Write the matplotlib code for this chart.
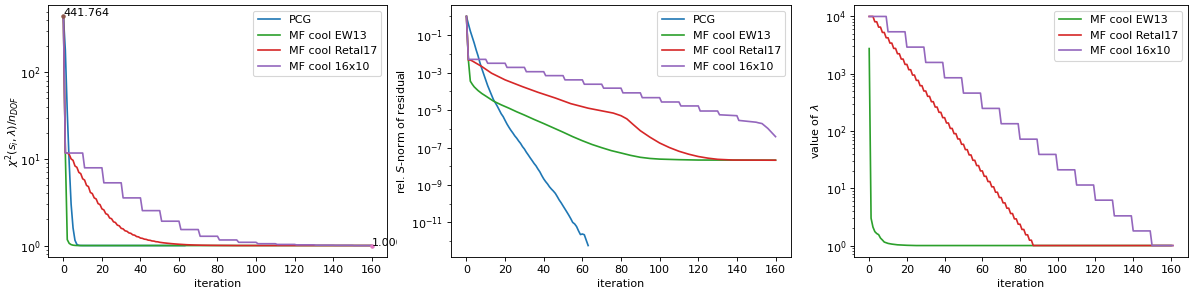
import matplotlib
matplotlib.use("Agg")
import matplotlib.pyplot as plt
from matplotlib.transforms import Bbox, TransformedBbox
from matplotlib.ticker import NullFormatter, FixedLocator

# ---------------- data ----------------
labels = ["PCG", "MF cool EW13", "MF cool Retal17", "MF cool 16x10"]
colors = ["#1f77b4", "#2ca02c", "#d62728", "#9467bd"]

# panel 1: chi^2 / n_DOF
chi2_pcg_it = [0, 1, 2, 3, 4, 5, 6, 7, 8, 9, 10, 63]
chi2_pcg = [441.764, 180, 35, 9, 3, 1.6, 1.15, 1.03, 1.005, 1.001, 1.0, 1.0]

chi2_ew13_it = [0, 1, 2, 3, 4, 5, 6, 7, 8, 160]
chi2_ew13 = [441.764, 11.7, 1.17, 1.06, 1.025, 1.01, 1.004, 1.001, 1.0, 1.0]

chi2_retal17_it = list(range(51)) + [52, 54, 56, 58, 60, 64, 68, 72, 76, 80, 86, 90, 160]
chi2_retal17 = [441.764, 11.8, 11.7, 11.3, 10.0, 9.64, 8.3, 8.0, 7.0, 6.76,
                5.9, 5.7, 4.95, 4.79, 4.1, 3.98, 3.55, 3.45, 3.05, 2.97,
                2.65, 2.58, 2.33, 2.28, 2.08, 2.04, 1.88, 1.845, 1.72, 1.69,
                1.58, 1.557, 1.48, 1.461, 1.40, 1.384, 1.33, 1.317, 1.27, 1.259,
                1.22, 1.211, 1.185, 1.178, 1.155, 1.149, 1.13, 1.125, 1.108, 1.104,
                1.09,
                1.075, 1.063, 1.052, 1.043, 1.035, 1.022, 1.014, 1.009, 1.006, 1.004,
                1.002, 1.0, 1.0]

chi2_16x10_it = [0, 1, 10, 11, 20, 21, 30, 31, 40, 41, 50, 51, 60, 61, 70, 71, 80, 81,
                 90, 91, 100, 101, 110, 111, 120, 121, 130, 131, 140, 141, 150, 151, 160]
chi2_16x10 = [441.764, 11.7, 11.7, 7.9, 7.9, 5.3, 5.3, 3.55, 3.55, 2.53, 2.53,
              1.91, 1.91, 1.53, 1.53, 1.28, 1.28, 1.16, 1.16, 1.09, 1.09,
              1.05, 1.05, 1.03, 1.03, 1.018, 1.018, 1.01, 1.01, 1.006, 1.006, 1.0, 1.0]

# panel 2: relative S-norm of residual
res_pcg_it = list(range(64))
res_pcg = [1.0, 0.398, 0.166, 0.0794, 0.038, 0.0166, 7.9e-3, 3.3e-3, 1.58e-3, 7.9e-4,
           3.98e-4, 2.0e-4, 1.12e-4, 6.3e-5, 3.55e-5, 2.4e-5, 1.58e-5, 1.0e-5, 6.3e-6, 4.47e-6,
           2.8e-6, 1.78e-6, 1.2e-6, 8.3e-7, 6.0e-7, 4.2e-7, 3.16e-7, 2.24e-7, 1.66e-7, 1.12e-7,
           8.3e-8, 5.6e-8, 4.0e-8, 2.8e-8, 2.0e-8, 1.41e-8, 1.05e-8, 7.1e-9, 5.0e-9, 3.16e-9,
           2.1e-9, 1.5e-9, 1.12e-9, 7.9e-10, 6.0e-10, 4.7e-10, 3.55e-10, 2.4e-10, 1.58e-10, 1.12e-10,
           7.6e-11, 5.2e-11, 3.55e-11, 2.4e-11, 1.58e-11, 1.0e-11, 8.3e-12, 6.0e-12, 3.55e-12, 2.24e-12,
           2.4e-12, 2.2e-12, 1.12e-12, 5.8e-13]

res_ew13_it = [0, 1, 2, 3, 4, 5, 6, 8, 10, 14, 18, 22, 26, 30, 35, 40, 45, 50, 55, 60,
               65, 70, 75, 80, 85, 90, 95, 100, 110, 120, 160]
res_ew13 = [1.0, 4.7e-3, 3.5e-4, 2.4e-4, 1.74e-4, 1.38e-4, 1.1e-4, 7.6e-5, 5.6e-5, 3.0e-5,
            1.9e-5, 1.26e-5, 8.1e-6, 5.4e-6, 3.16e-6, 1.9e-6, 1.12e-6, 6.6e-7, 3.8e-7, 2.3e-7,
            1.45e-7, 9.8e-8, 6.8e-8, 5.1e-8, 3.8e-8, 3.0e-8, 2.6e-8, 2.4e-8, 2.24e-8, 2.14e-8, 2.1e-8]

res_retal17_it = [0, 1, 2, 3, 8, 13, 20, 29, 37, 46, 54, 63, 70, 76, 80, 83, 86, 90, 95,
                  100, 105, 110, 115, 120, 125, 130, 138, 160]
res_retal17 = [1.0, 4.7e-3, 4.7e-3, 4.2e-3, 2.1e-3, 9.3e-4, 4.1e-4, 1.78e-4, 8.9e-5, 4.4e-5,
               2.2e-5, 1.26e-5, 9.1e-6, 6.9e-6, 5.0e-6, 3.4e-6, 1.8e-6, 7.9e-7, 3.55e-7,
               1.74e-7, 1.0e-7, 6.3e-8, 4.4e-8, 3.3e-8, 2.7e-8, 2.34e-8, 2.14e-8, 2.1e-8]

res_16x10_it = [0, 1, 10, 11, 20, 21, 30, 31, 40, 41, 50, 51, 60, 61, 70, 71, 80, 81, 90, 91,
                100, 101, 110, 111, 120, 121, 130, 131, 140, 141, 150, 151, 153, 156, 160]
res_16x10 = [1.0, 5.1e-3, 5.1e-3, 3.16e-3, 3.16e-3, 1.9e-3, 1.9e-3, 1.12e-3, 1.12e-3,
             6.9e-4, 6.9e-4, 4.1e-4, 4.1e-4, 2.4e-4, 2.4e-4, 1.48e-4, 1.48e-4, 8.3e-5, 8.3e-5,
             4.6e-5, 4.6e-5, 2.7e-5, 2.7e-5, 1.66e-5, 1.66e-5, 8.9e-6, 8.9e-6, 5.6e-6, 5.0e-6,
             2.8e-6, 2.24e-6, 2.1e-6, 1.9e-6, 1.05e-6, 3.8e-7]

# panel 3: value of lambda
lam_ew13_it = [0, 1, 2, 3, 4, 5, 6, 7, 8, 9, 10, 12, 15, 20, 25, 160]
lam_ew13 = [2750, 3.0, 2.1, 1.75, 1.62, 1.55, 1.35, 1.25, 1.15, 1.12, 1.09, 1.06, 1.03, 1.01, 1.0, 1.0]

lam_retal17_it = list(range(88)) + [161]
lam_retal17 = [10000, 10000, 10000, 8072, 8072, 6516, 6516, 5260, 5260, 4246, 4246,
               3428, 3428, 2767, 2767, 2234, 2234, 1803, 1803, 1455, 1455, 1175, 1175,
               948, 948, 766, 766, 618, 618, 499, 499, 403, 403, 325, 325, 262, 262,
               212, 212, 171, 171, 138, 138, 111, 111, 89.9, 89.9, 72.6, 72.6, 58.6, 58.6,
               47.3, 47.3, 38.2, 38.2, 30.8, 30.8, 24.9, 24.9, 20.1, 20.1, 16.2, 16.2,
               13.1, 13.1, 10.6, 10.6, 8.53, 8.53, 6.89, 6.89, 5.56, 5.56, 4.49, 4.49,
               3.62, 3.62, 2.92, 2.92, 2.36, 2.36, 1.91, 1.91, 1.54, 1.54, 1.24, 1.24,
               1.0, 1.0]

lam_16x10_it = [0, 9, 10, 19, 20, 29, 30, 39, 40, 49, 50, 59, 60, 69, 70, 79, 80, 89,
                90, 99, 100, 109, 110, 119, 120, 129, 130, 139, 140, 149, 150, 161]
lam_16x10 = [10000, 10000, 5400, 5400, 2916, 2916, 1575, 1575, 850, 850, 459, 459,
             248, 248, 134, 134, 72, 72, 39, 39, 21, 21, 11.4, 11.4, 6.2, 6.2,
             3.3, 3.3, 1.8, 1.8, 1.0, 1.0]

start_label = "441.764"
end_label = "1.000"

# ---------------- figure ----------------
DPI = 80
W = 1200.0
H = 294.0
fig = plt.figure(figsize=(W / DPI, H / DPI), dpi=DPI)

def rect(l, r, t=5, b=257):
    return [l / W, 1 - b / H, (r - l) / W, (b - t) / H]

ax1 = fig.add_axes(rect(48, 387))
ax2 = fig.add_axes(rect(451, 791))
ax3 = fig.add_axes(rect(854, 1188))

# panel 1
ax1.plot(chi2_pcg_it, chi2_pcg, color=colors[0], label=labels[0])
ax1.plot(chi2_ew13_it, chi2_ew13, color=colors[1], label=labels[1])
ax1.plot(chi2_retal17_it, chi2_retal17, color=colors[2], label=labels[2])
ax1.plot(chi2_16x10_it, chi2_16x10, color=colors[3], label=labels[3])
ax1.plot([chi2_16x10_it[0]], [chi2_16x10[0]], '.', color="#8c564b")
ax1.plot([chi2_16x10_it[-1]], [chi2_16x10[-1]], '.', color="#e377c2")
ax1.text(chi2_16x10_it[0], chi2_16x10[0], start_label)
t_end = ax1.text(chi2_16x10_it[-1], chi2_16x10[-1], end_label)
t_end.set_clip_box(TransformedBbox(Bbox.from_extents(0, 0, 397 / W, 1), fig.transFigure))
t_end.set_clip_on(True)
ax1.set_yscale('log')
ax1.set_xlabel("iteration")
ax1.set_ylabel(r"$\chi^2(s_i,\lambda)/n_{DOF}$")
ax1.yaxis.set_label_coords(-0.078, 0.5)
ax1.legend(loc="upper right")

# panel 2
ax2.plot(res_pcg_it, res_pcg, color=colors[0], label=labels[0])
ax2.plot(res_ew13_it, res_ew13, color=colors[1], label=labels[1])
ax2.plot(res_retal17_it, res_retal17, color=colors[2], label=labels[2])
ax2.plot(res_16x10_it, res_16x10, color=colors[3], label=labels[3])
ax2.set_yscale('log')
ax2.yaxis.set_major_locator(FixedLocator([1e-11, 1e-9, 1e-7, 1e-5, 1e-3, 1e-1]))
ax2.yaxis.set_minor_locator(FixedLocator([1e-12, 1e-10, 1e-8, 1e-6, 1e-4, 1e-2, 1.0]))
ax2.yaxis.set_minor_formatter(NullFormatter())
ax2.set_xlabel("iteration")
ax2.set_ylabel(r"rel. $S$-norm of residual")
ax2.legend(loc="upper right")

# panel 3
ax3.plot(lam_ew13_it, lam_ew13, color=colors[1], label=labels[1])
ax3.plot(lam_retal17_it, lam_retal17, color=colors[2], label=labels[2])
ax3.plot(lam_16x10_it, lam_16x10, color=colors[3], label=labels[3])
ax3.set_yscale('log')
ax3.set_xlabel("iteration")
ax3.set_ylabel(r"value of $\lambda$")
ax3.legend(loc="upper right")

for ax in (ax1, ax2, ax3):
    ax.set_xticks([0, 20, 40, 60, 80, 100, 120, 140, 160])

fig.savefig("out.png", dpi=DPI)
